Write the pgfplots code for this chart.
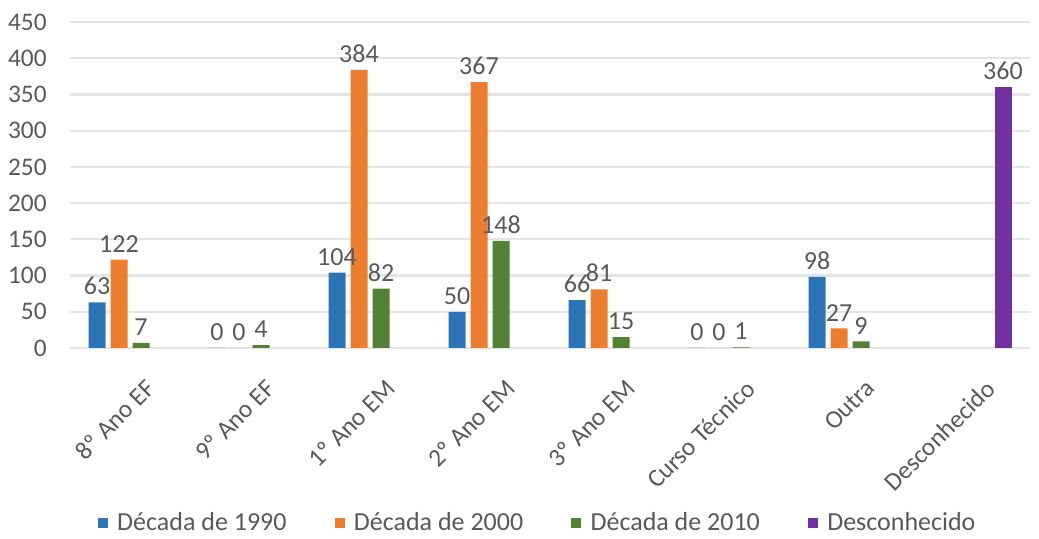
\documentclass[border=0pt]{standalone}
\usepackage{fontspec}
\setmainfont{Carlito}
\usepackage{pgfplots}
\pgfplotsset{compat=1.18}
\definecolor{dec90}{HTML}{2E75B6}
\definecolor{dec00}{HTML}{ED7D31}
\definecolor{dec10}{HTML}{548235}
\definecolor{desc}{HTML}{7030A0}
\definecolor{txtgray}{HTML}{595959}
\definecolor{gridgray}{HTML}{E4E4E4}

\begin{document}
\begin{tikzpicture}
\begin{axis}[name=ax,scale only axis,width=720pt,height=244.5pt,
  ybar=3.75pt,bar width=12.75pt,
  xmin=-0.5,xmax=7.5,ymin=0,ymax=450,
  xtick={0,...,7},
  xticklabels={8º Ano EF,9º Ano EF,1º Ano EM,2º Ano EM,3º Ano EM,Curso Técnico,Outra,Desconhecido},
  ytick={0,50,...,450},
  ymajorgrids,grid style={gridgray,line width=1.6pt},
  axis line style={draw=none},major tick length=0pt,
  /pgf/number format/assume math mode=true,
  tick label style={font=\fontsize{19}{22}\selectfont,txtgray},
  yticklabel style={xshift=-14pt},
  xticklabel style={rotate=45,anchor=north east,xshift=-5pt,yshift=-20pt},
  nodes near coords,
  every node near coord/.append style={font=\fontsize{19.5}{22}\selectfont,txtgray,yshift=2pt},
  legend columns=4,
  legend style={at={(0.5,0)},anchor=center,xshift=-9pt,yshift=-131pt,draw=none,
    font=\fontsize{19.5}{22}\selectfont,text=txtgray,
    /tikz/every odd column/.append style={column sep=5pt},
    /tikz/every even column/.append style={column sep=34pt}},
  legend image code/.code={\fill[#1] (0pt,-3.75pt) rectangle (7.5pt,3.75pt);},
]
\addplot[fill=dec90,draw=none] coordinates {(0,63) (1,0) (2,104) (3,50) (4,66) (5,0) (6,98)};
\addplot[fill=dec00,draw=none] coordinates {(0,122) (1,0) (2,384) (3,367) (4,81) (5,0) (6,27)};
\addplot[fill=dec10,draw=none] coordinates {(0,7) (1,4) (2,82) (3,148) (4,15) (5,1) (6,9)};
\addplot[fill=desc,draw=none] coordinates {(7,360)};
\legend{Década de 1990,Década de 2000,Década de 2010,Desconhecido}
\end{axis}
\pgfresetboundingbox
\path[use as bounding box] ([xshift=-52.5pt,yshift=-143.25pt]ax.south west) rectangle ([xshift=6.75pt,yshift=16.5pt]ax.north east);
\end{tikzpicture}
\end{document}
